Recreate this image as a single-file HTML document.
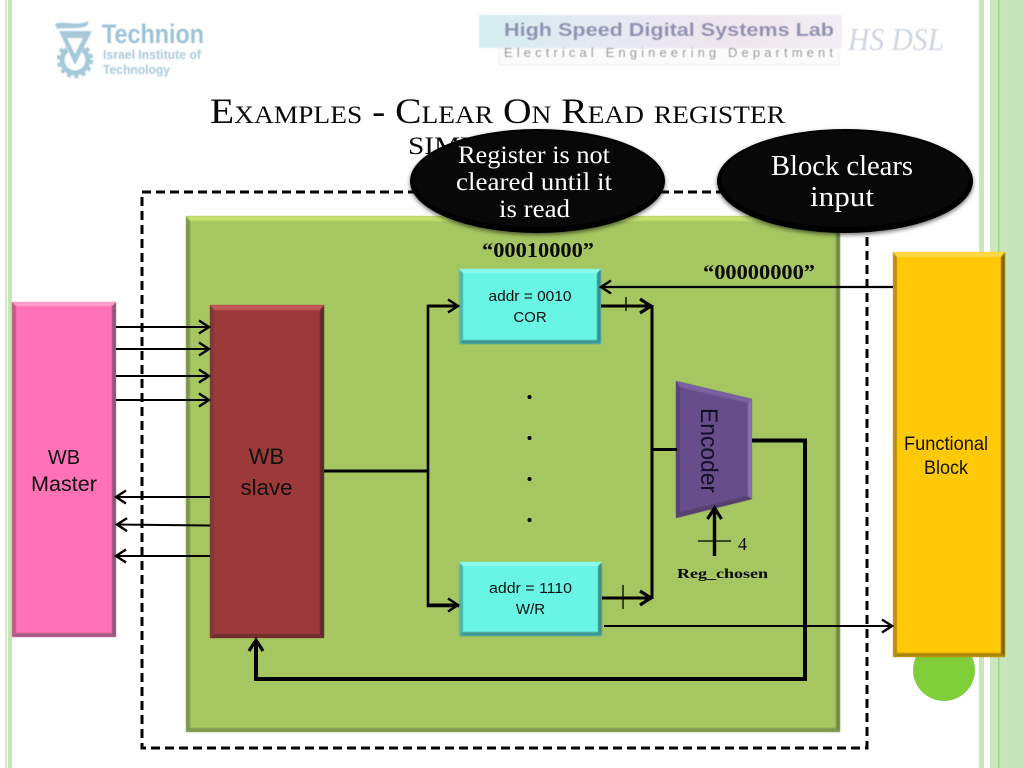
<!DOCTYPE html>
<html><head><meta charset="utf-8"><title>Examples - Clear On Read register simulation</title>
<style>
html,body{margin:0;padding:0;background:#fff;width:1024px;height:768px;overflow:hidden}
svg{display:block}
.s{font-family:"Liberation Serif",serif}
.c{font-family:"Liberation Sans",sans-serif}
.t{font-family:"Liberation Serif",serif;font-variant:small-caps;font-size:36px;fill:#0a0a0a}
</style></head><body>
<svg width="1024" height="768" viewBox="0 0 1024 768" xmlns="http://www.w3.org/2000/svg">
<defs>
<marker id="a" markerUnits="userSpaceOnUse" markerWidth="24" markerHeight="24" refX="12" refY="12" orient="auto" overflow="visible"><path d="M2,5.5 L12,12 L2,18.5" fill="none" stroke="#000" stroke-width="2.4"/></marker>
<marker id="b" markerUnits="userSpaceOnUse" markerWidth="24" markerHeight="24" refX="12" refY="12" orient="auto" overflow="visible"><path d="M1,5 L12,12 L1,19" fill="none" stroke="#000" stroke-width="3.2"/></marker>
<filter id="sh" x="-10%" y="-10%" width="120%" height="125%"><feDropShadow dx="0" dy="2" stdDeviation="2" flood-color="#000" flood-opacity=".55"/></filter>
<filter id="bl" x="-5%" y="-5%" width="110%" height="110%"><feGaussianBlur stdDeviation=".5"/></filter>
<filter id="b2" x="-2%" y="-2%" width="104%" height="104%"><feGaussianBlur stdDeviation=".7"/></filter>
<linearGradient id="lab" x1="0" x2="1" y1="0" y2="0"><stop offset="0" stop-color="#d5eef0"/><stop offset=".35" stop-color="#e6e8f3"/><stop offset=".7" stop-color="#efe6ee"/><stop offset="1" stop-color="#f2eef4"/></linearGradient>
<clipPath id="gc"><rect x="50" y="44" width="50" height="40"/></clipPath>
</defs>
<!-- stripes -->
<rect x="5" y="0" width="2" height="768" fill="#d3ecc8"/>
<rect x="8" y="0" width="4" height="768" fill="#c5e6b8"/>
<rect x="979" y="0" width="5" height="768" fill="#cbe5bd"/>
<rect x="990" y="0" width="17" height="768" fill="#c9e6bc"/>
<rect x="998" y="0" width="1.4" height="768" fill="#9fd18b"/>
<rect x="1007" y="0" width="17" height="768" fill="#c6e6b9"/>
<!-- Technion logo -->
<g filter="url(#bl)">
<g clip-path="url(#gc)" fill="none" stroke="#a5c9d9">
<circle cx="75" cy="60" r="13" stroke-width="5"/>
<circle cx="75" cy="60" r="16.5" stroke-width="3.5" stroke-dasharray="4 3.5"/>
</g>
<path d="M55,24 C64,20 76,27 89,21 L87,26 C76,30 66,27 57,29 Z" fill="#a5c9d9"/>
<path d="M58,30 L92,30 L75,66 Z" fill="#fff"/>
<path d="M59,31 L92,31 L75,65 Z M67,38 L75,54 L83,38 Z" fill="#a5c9d9" fill-rule="evenodd"/>
<text class="c" x="102" y="43" font-size="27" font-weight="bold" fill="#9cc3d5" textLength="102" lengthAdjust="spacingAndGlyphs">Technion</text>
<text class="c" x="103" y="59" font-size="13" font-weight="bold" fill="#a9cbdb" textLength="98" lengthAdjust="spacingAndGlyphs">Israel Institute of</text>
<text class="c" x="103" y="74" font-size="13" font-weight="bold" fill="#a9cbdb" textLength="67" lengthAdjust="spacingAndGlyphs">Technology</text>
</g>
<!-- Lab logo -->
<g filter="url(#bl)">
<rect x="479" y="15" width="363" height="33" fill="url(#lab)"/>
<rect x="499" y="48" width="340" height="17" fill="#fbfbfb" stroke="#eee"/>
<text class="c" x="504" y="36" font-size="18" font-weight="bold" fill="#8f8fb0" textLength="330" lengthAdjust="spacingAndGlyphs">High Speed Digital Systems Lab</text>
<text class="c" x="504" y="57" font-size="13" fill="#8e8e8e" textLength="329">Electrical Engineering Department</text>
<text class="s" x="848" y="50" font-size="32" font-style="italic" fill="#cfd4e0" textLength="96" lengthAdjust="spacingAndGlyphs">HS DSL</text>
</g>
<!-- title -->
<text class="t" x="210" y="123" textLength="575" lengthAdjust="spacingAndGlyphs">Examples - Clear On Read register</text>
<text class="t" x="408" y="154" textLength="179" lengthAdjust="spacingAndGlyphs">simulation</text>
<!-- dashed boundary -->
<rect x="142" y="192" width="725" height="556" fill="none" stroke="#000" stroke-width="3" stroke-dasharray="9 5"/>
<!-- green main -->
<rect x="186" y="216" width="654" height="516" fill="#a6c661"/>
<g filter="url(#b2)">
<polygon points="186,216 840,216 836,221 190,221" fill="#c3e06e"/>
<polygon points="186,216 190,221 190,728 186,732" fill="#7d9650"/>
<polygon points="840,216 836,221 836,728 840,732" fill="#6f8847"/>
<polygon points="186,732 190,728 836,728 840,732" fill="#7c9850"/>
</g>
<!-- circle -->
<circle cx="944" cy="670" r="31" fill="#80cf3a"/>
<!-- pink master -->
<rect x="12" y="302" width="104" height="335" fill="#ff73b6"/>
<g filter="url(#bl)">
<polygon points="12,302 116,302 112,306 16,306" fill="#ff9fcc"/>
<polygon points="12,302 16,306 16,633 12,637" fill="#b95f8e"/>
<polygon points="116,302 112,306 112,633 116,637" fill="#8f5476"/>
<polygon points="12,637 16,633 112,633 116,637" fill="#a55c84"/>
</g>
<!-- WB slave -->
<rect x="210" y="305" width="114" height="333" fill="#9c3a39"/>
<g filter="url(#bl)">
<polygon points="210,305 324,305 320,310 214,310" fill="#c25a58"/>
<polygon points="210,305 214,310 214,634 210,638" fill="#7c3b38"/>
<polygon points="324,305 320,310 320,634 324,638" fill="#5a2a28"/>
<polygon points="210,638 214,634 320,634 324,638" fill="#6d2f2d"/>
</g>
<!-- cyan boxes -->
<rect x="459" y="269" width="142" height="75" fill="#69f5e3"/>
<g filter="url(#bl)">
<polygon points="459,269 601,269 597,273 463,273" fill="#8cfbee"/>
<polygon points="459,269 463,273 463,340 459,344" fill="#4fb3a8"/>
<polygon points="601,269 597,273 597,340 601,344" fill="#3f8f86"/>
<polygon points="459,344 463,340 597,340 601,344" fill="#41968e"/>
</g>
<rect x="459" y="562" width="143" height="74" fill="#69f5e3"/>
<g filter="url(#bl)">
<polygon points="459,562 602,562 598,566 463,566" fill="#8cfbee"/>
<polygon points="459,562 463,566 463,632 459,636" fill="#4fb3a8"/>
<polygon points="602,562 598,566 598,632 602,636" fill="#3f8f86"/>
<polygon points="459,636 463,632 598,632 602,636" fill="#41968e"/>
</g>
<!-- yellow -->
<rect x="893" y="252" width="112" height="405" fill="#ffc907"/>
<g filter="url(#bl)">
<polygon points="893,252 1005,252 1001,257 897,257" fill="#ffd84a"/>
<polygon points="893,252 897,257 897,653 893,657" fill="#b8920e"/>
<polygon points="1005,252 1001,257 1001,653 1005,657" fill="#7f660c"/>
<polygon points="893,657 897,653 1001,653 1005,657" fill="#a8860c"/>
</g>
<!-- encoder -->
<polygon points="676,381 752,399 752,499 676,518" fill="#674e8a"/>
<g filter="url(#bl)">
<polygon points="676,381 752,399 748,403 680,387" fill="#7a62a0"/>
<polygon points="676,381 680,387 680,512 676,518" fill="#574276"/>
<polygon points="752,399 748,403 748,496 752,499" fill="#8b73ad"/>
<polygon points="676,518 680,512 748,496 752,499" fill="#54406f"/>
</g>
<text class="c" transform="translate(701,408) rotate(90)" font-size="24" fill="#14102a" textLength="85" lengthAdjust="spacingAndGlyphs">Encoder</text>
<!-- master/slave arrows -->
<g fill="none" stroke="#000" stroke-width="2">
<line x1="116" y1="327" x2="209" y2="327" marker-end="url(#a)"/>
<line x1="116" y1="349" x2="209" y2="349" marker-end="url(#a)"/>
<line x1="116" y1="376" x2="209" y2="376" marker-end="url(#a)"/>
<line x1="116" y1="400" x2="209" y2="400" marker-end="url(#a)"/>
<line x1="210" y1="497" x2="116" y2="497" marker-end="url(#a)"/>
<line x1="210" y1="525.5" x2="117" y2="524.5" marker-end="url(#a)"/>
<line x1="210" y1="556" x2="116" y2="556" marker-end="url(#a)"/>
<line x1="893" y1="287" x2="601" y2="287" stroke-width="2.2" marker-end="url(#a)"/>
<line x1="604" y1="626" x2="892" y2="626" stroke-width="2" marker-end="url(#a)"/>
</g>
<!-- bus lines -->
<g fill="none" stroke="#000" stroke-width="3">
<line x1="324" y1="471" x2="428" y2="471"/>
<polyline points="459,306 428,306 428,606 459,606" stroke-width="2.6"/>
<line x1="428" y1="306" x2="458" y2="306" marker-end="url(#a)"/>
<line x1="428" y1="605" x2="458" y2="605" marker-end="url(#a)"/>
<line x1="601" y1="306" x2="651" y2="306" marker-end="url(#b)"/>
<line x1="602" y1="598" x2="651" y2="598" marker-end="url(#b)"/>
<line x1="652" y1="305" x2="652" y2="599"/>
<line x1="652" y1="449.5" x2="677" y2="449.5"/>
<polyline points="752,440.5 805,440.5 805,679 256,679 256,640" stroke-width="4" marker-end="url(#b)"/>
<line x1="714.5" y1="556" x2="714.5" y2="508" stroke-width="3.4" marker-end="url(#b)"/>
</g>
<g stroke="#000" stroke-width="1.3">
<line x1="626" y1="297" x2="626" y2="311"/>
<line x1="623" y1="585" x2="623" y2="609"/>
<line x1="698" y1="541" x2="731" y2="541"/>
</g>
<g fill="#000"><circle cx="529.5" cy="397" r="2"/><circle cx="529.5" cy="438" r="2"/><circle cx="529.5" cy="479" r="2"/><circle cx="529.5" cy="520" r="2"/></g>
<!-- labels -->
<g class="c" text-anchor="middle" fill="#111">
<text x="64" y="464" font-size="20">WB</text>
<text x="64" y="491" font-size="21" textLength="66" lengthAdjust="spacingAndGlyphs">Master</text>
<text x="266.5" y="464" font-size="22">WB</text>
<text x="266.5" y="495" font-size="22" textLength="52" lengthAdjust="spacingAndGlyphs">slave</text>
<text x="530" y="301" font-size="15" textLength="83" lengthAdjust="spacingAndGlyphs">addr = 0010</text>
<text x="530" y="322" font-size="15">COR</text>
<text x="530.5" y="593" font-size="15" textLength="83" lengthAdjust="spacingAndGlyphs">addr = 1110</text>
<text x="530.5" y="614" font-size="15">W/R</text>
<text x="946" y="450" font-size="19" textLength="84" lengthAdjust="spacingAndGlyphs">Functional</text>
<text x="946" y="474" font-size="19" textLength="44" lengthAdjust="spacingAndGlyphs">Block</text>
</g>
<g class="s" fill="#0a0a0a">
<text x="482" y="257" font-size="21" font-weight="bold" textLength="112" lengthAdjust="spacingAndGlyphs">“00010000”</text>
<text x="703" y="279" font-size="21" font-weight="bold" textLength="112" lengthAdjust="spacingAndGlyphs">“00000000”</text>
<text x="738" y="550" font-size="18">4</text>
<text x="677" y="578" font-size="14" font-weight="bold" textLength="91" lengthAdjust="spacingAndGlyphs">Reg_chosen</text>
</g>
<!-- callouts -->
<ellipse cx="537.5" cy="181" rx="127.5" ry="52" fill="#000" filter="url(#sh)"/>
<ellipse cx="537.5" cy="179" rx="124" ry="48" fill="#080808"/>
<ellipse cx="845" cy="181" rx="128" ry="52" fill="#000" filter="url(#sh)"/>
<ellipse cx="845" cy="179" rx="124" ry="48" fill="#080808"/>
<g class="s" fill="#fff">
<text x="458" y="163" font-size="25" textLength="152" lengthAdjust="spacingAndGlyphs">Register is not</text>
<text x="456" y="190" font-size="25" textLength="156" lengthAdjust="spacingAndGlyphs">cleared until it</text>
<text x="499" y="217" font-size="25" textLength="71" lengthAdjust="spacingAndGlyphs">is read</text>
<text x="771" y="175" font-size="29" textLength="142" lengthAdjust="spacingAndGlyphs">Block clears</text>
<text x="810" y="206" font-size="29" textLength="64" lengthAdjust="spacingAndGlyphs">input</text>
</g>
</svg>
</body></html>
